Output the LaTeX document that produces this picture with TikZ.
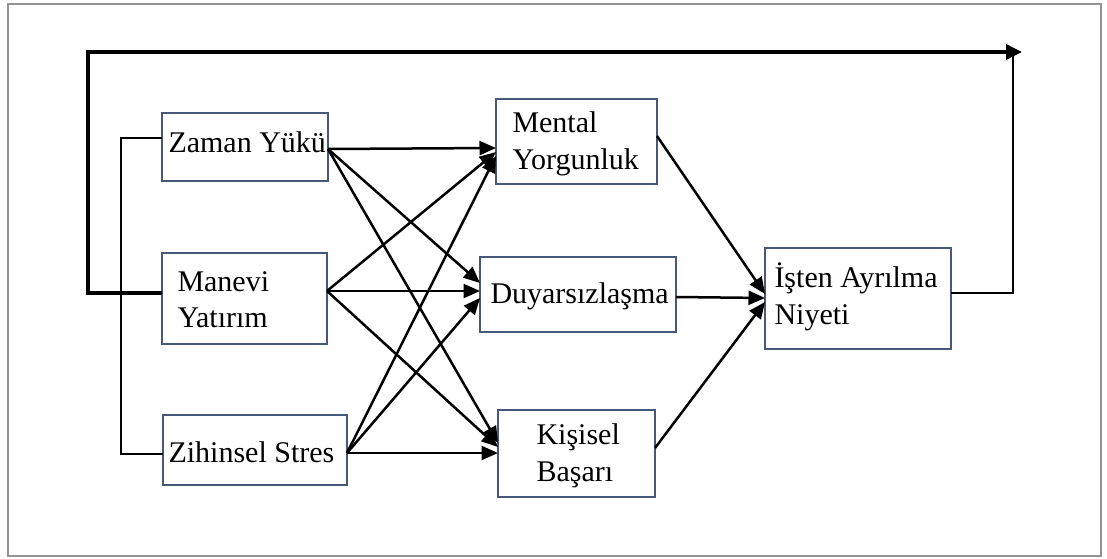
\documentclass[tikz,border=0pt]{standalone}
\usepackage{fontspec}
\setmainfont{Liberation Serif}
\usetikzlibrary{arrows.meta,calc,fit}
\definecolor{boxline}{HTML}{48587A}
\definecolor{framegray}{HTML}{949494}
\begin{document}
\begin{tikzpicture}[x=0.4pt,y=-0.4pt,
  box/.style={draw=boxline,line width=1pt,rectangle,inner sep=0pt,outer sep=0pt},
  lbl/.style={anchor=base west,inner sep=0pt,font=\fontsize{12}{14}\selectfont},
  tip/.style={-{Triangle[length=6.6pt,width=5.6pt]}},
  link/.style={line width=1pt,tip},
  plain/.style={line width=1pt},
  loopline/.style={line width=1.4pt}]
\useasboundingbox (0,0) rectangle (1107,559);
\draw[framegray,line width=1pt] (8,4) rectangle (1101,556);

% boxes
\node[box,fit={(162,113) (328,181)}] (zaman) {};
\node[box,fit={(162,253) (327,344)}] (manevi) {};
\node[box,fit={(163,415) (347,485)}] (zihin) {};
\node[box,fit={(496,99) (657,184)}] (mental) {};
\node[box,fit={(480,257) (676,332)}] (duyar) {};
\node[box,fit={(498,410) (655,497)}] (kisisel) {};
\node[box,fit={(765,248) (951,349)}] (isten) {};

% labels
\node[lbl] (zamanT) at (168,153) {Zaman Yükü};
\node[lbl] (maneviA) at (177,291) {Manevi};
\node[lbl] (maneviB) at (177,327) {Yatırım};
\node[lbl] (zihinT) at (168,462) {Zihinsel Stres};
\node[lbl] (mentalA) at (512,133) {Mental};
\node[lbl] (mentalB) at (512,170) {Yorgunluk};
\node[lbl] (duyarT) at (490,303) {Duyarsızlaşma};
\node[lbl] (kisiselA) at (536,444) {Kişisel};
\node[lbl] (kisiselB) at (536,481) {Başarı};
\node[lbl] (istenA) at (774,287) {İşten Ayrılma};
\node[lbl] (istenB) at (774,324) {Niyeti};

% bracket joining the three left boxes
\draw[plain] ($(zaman.west)+(0,-9)$) -- ++(-41,0) |- ($(zihin.west)+(0,4)$);

% first layer of paths
\draw[link] ($(zaman.east)+(0,2)$) -- ($(mental.west)+(0,6.5)$);
\draw[link] ($(zaman.east)+(0,2)$) -- ($(duyar.west)+(0,-11.5)$);
\draw[link] ($(zaman.east)+(0,2)$) -- ($(kisisel.west)+(0,-10.5)$);
\draw[link] ($(manevi.east)+(0,-7.5)$) -- ($(mental.west)+(0,10.5)$);
\draw[link] ($(manevi.east)+(0,-7.5)$) -- ($(duyar.west)+(0,-3.5)$);
\draw[link] ($(manevi.east)+(0,-7.5)$) -- ($(kisisel.west)+(0,-6.5)$);
\draw[link] ($(zihin.east)+(0,3)$) -- ($(mental.west)+(0,14.5)$);
\draw[link] ($(zihin.east)+(0,3)$) -- ($(duyar.west)+(0,3.5)$);
\draw[link] ($(zihin.east)+(0,3)$) -- ($(kisisel.west)+(0,-0.5)$);

% second layer of paths
\draw[link] ($(mental.east)+(0,-5.5)$) -- ($(isten.west)+(0,-4.5)$);
\draw[link] ($(duyar.east)+(0,2.5)$) -- ($(isten.west)+(0,-0.5)$);
\draw[link] ($(kisisel.east)+(0,-5.5)$) -- ($(isten.west)+(0,3.5)$);

% direct path over the top
\coordinate (topleft) at (88,52);
\coordinate (topright) at (1022,52);
\coordinate (rightcorner) at (1013,52);
\draw[loopline,-{Triangle[length=6.4pt,width=6pt]}] ($(manevi.west)+(0,-5.5)$) -| (topleft) -- (topright);
\draw[plain] ($(isten.east)+(0,-5.5)$) -| (rightcorner);
\end{tikzpicture}
\end{document}
